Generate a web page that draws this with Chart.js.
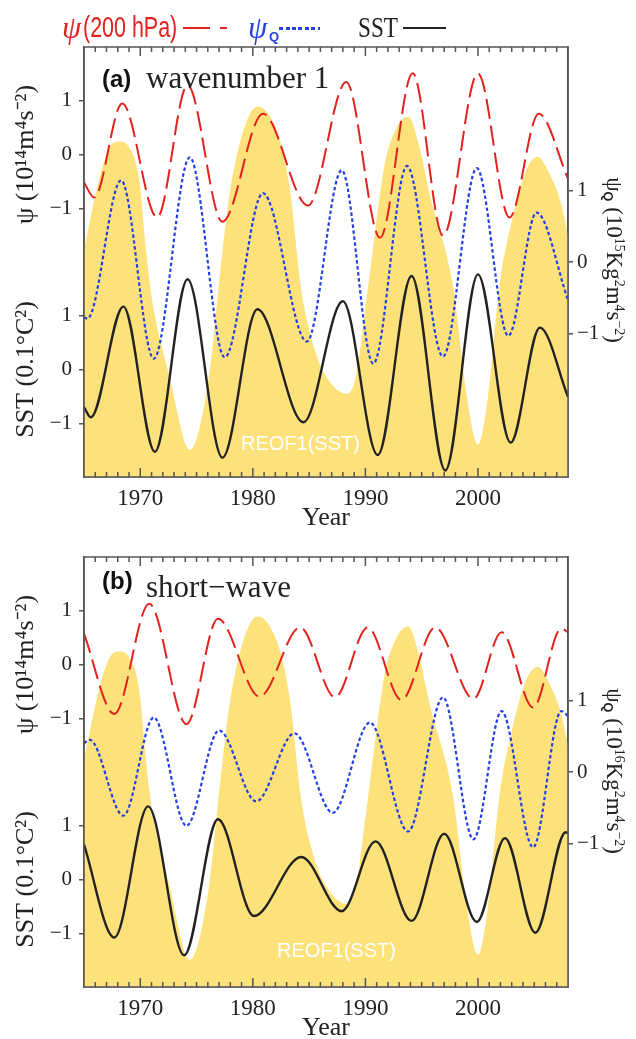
<!DOCTYPE html>
<html>
<head>
<meta charset="utf-8">
<script src="https://cdn.jsdelivr.net/npm/chart.js@4.4.1/dist/chart.umd.min.js"></script>
<style>
  body { margin: 0; width: 636px; height: 1039px; overflow: hidden; position: relative; background: #fff; }
  canvas { position: absolute; left: 0; }
  .t { position: absolute; white-space: nowrap; line-height: 1; z-index: 5; }
  .serif { font-family: 'Liberation Serif', serif; }
  .sans { font-family: 'Liberation Sans', sans-serif; }
  .rot { position: absolute; white-space: nowrap; line-height: 1; z-index: 5; transform: translate(-50%, -50%) rotate(90deg);
         font: 23px 'Liberation Serif', serif; color: #222; }
  .rot sup { font-size: 0.6em; vertical-align: 0.55em; line-height: 0; }
  .rot sub { font-size: 0.55em; vertical-align: -0.2em; line-height: 0; font-family: 'Liberation Sans', sans-serif; font-weight: bold; }
  .bar { position: absolute; z-index: 5; }
</style>
</head>
<body>

<!-- legend -->
<span class="t serif" style="left:62px;top:12px;color:#e3211d;font-size:31px;font-style:italic">ψ</span>
<span class="t sans" style="left:83px;top:13px;color:#e3211d;font-size:29px;transform:scaleX(.74);transform-origin:0 0">(200 hPa)</span>
<div class="bar" style="left:183px;top:27px;width:27px;height:2px;background:#e3211d"></div>
<div class="bar" style="left:220px;top:27px;width:7px;height:2px;background:#e3211d"></div>
<span class="t serif" style="left:248px;top:12px;color:#2440e6;font-size:31px;font-style:italic">ψ</span>
<span class="t sans" style="left:269px;top:30px;color:#2440e6;font-size:13px;font-weight:bold">Q</span>
<div class="bar" style="left:279px;top:27px;width:41px;height:2.5px;background:repeating-linear-gradient(90deg,#2440e6 0 4px,transparent 4px 6.5px)"></div>
<span class="t serif" style="left:358px;top:13px;color:#222;font-size:29px;transform:scaleX(.8);transform-origin:0 0">SST</span>
<div class="bar" style="left:403px;top:27px;width:43px;height:2px;background:#222"></div>

<!-- panel labels -->
<span class="t sans" style="left:102px;top:67px;font-size:24px;font-weight:bold;color:#111">(a)</span>
<span class="t serif" style="left:146px;top:62px;font-size:31px;color:#222">wavenumber 1</span>
<span class="t sans" style="left:102px;top:569px;font-size:24px;font-weight:bold;color:#111">(b)</span>
<span class="t serif" style="left:146px;top:571px;font-size:31px;color:#222">short−wave</span>

<span class="t sans" style="left:241px;top:433px;font-size:20px;color:#fff">REOF1(SST)</span>
<span class="t sans" style="left:277px;top:940px;font-size:20px;color:#fff">REOF1(SST)</span>

<div class="rot" style="left:614px;top:260px">ψ<sub>Q</sub> (10<sup>15</sup>Kg<sup>2</sup>m<sup>4</sup>s<sup>−2</sup>)</div>
<div class="rot" style="left:614px;top:771px">ψ<sub>Q</sub> (10<sup>16</sup>Kg<sup>2</sup>m<sup>4</sup>s<sup>−2</sup>)</div>

<canvas id="ca" width="636" height="545" style="top:0"></canvas>
<canvas id="cb" width="636" height="545" style="top:510px"></canvas>

<script>
// (a) wavenumber 1
var psiA_yr  = [1965, 1965.9, 1968.4, 1971.5, 1974.2, 1977.3, 1980.9, 1984.9, 1988.3, 1991.3, 1994.2, 1996.9, 2000.0, 2002.8, 2005.4, 2008];
var psiA     = [-0.52, -0.80, 0.95, -1.17, 1.29, -1.25, 0.76, -0.95, 1.35, -1.55, 1.51, -1.51, 1.51, -1.17, 0.76, -0.45];
var psiqA_yr = [1965, 1965.3, 1968.3, 1971.2, 1974.4, 1977.5, 1980.9, 1984.8, 1987.9, 1990.7, 1993.7, 1996.9, 1999.9, 2002.7, 2005.2, 2008];
var psiqA    = [-0.77, -0.79, 1.14, -1.35, 1.46, -1.33, 0.96, -1.11, 1.28, -1.42, 1.34, -1.32, 1.31, -1.03, 0.69, -0.53];
var sstA_yr  = [1965, 1965.6, 1968.5, 1971.3, 1974.2, 1977.3, 1980.4, 1984.5, 1988.0, 1991.1, 1994.1, 1997.1, 2000.0, 2002.9, 2005.5, 2008];
var sstA     = [-0.70, -0.89, 1.17, -1.53, 1.68, -1.64, 1.12, -0.98, 1.27, -1.59, 1.74, -1.88, 1.77, -1.36, 0.78, -0.51];

// REOF1(SST), same shading in both panels
var reof_yr  = [1965, 1966.4, 1967.3, 1968.1, 1969.0, 1969.9, 1970.5, 1971.0, 1972.6, 1974.4, 1976.1, 1977.0, 1977.9, 1979.1, 1980.4,
                1982.4, 1983.3, 1984.3, 1985.7, 1986.6, 1988.3, 1989.15, 1990.2, 1991.7, 1992.7, 1993.8, 1994.8, 1995.7,
                1997.8, 1999.0, 2000.0, 2000.9, 2001.9, 2003.1, 2004.2, 2005.3, 2006.3, 2007.3, 2008];
var reof     = [0.17, 1.19, 1.6, 1.68, 1.6, 1.15, 0.17, -0.48, -1.6, -2.62, -1.6, -0.29, 0.91, 1.8, 2.17,
                1.70, 1.0, -0.39, -1.32, -1.62, -1.84, -1.6, -0.4, 1.35, 1.85, 2.03, 1.6, 0.95,
                -0.35, -1.87, -2.55, -1.87, -0.35, 0.63, 1.25, 1.47, 1.25, 0.86, 0.38];

// (b) short-wave
var psiB_yr  = [1965, 1967.7, 1970.8, 1974.1, 1976.9, 1980.6, 1984.2, 1987.3, 1990.2, 1993.2, 1996.2, 1999.6, 2002.1, 2004.9, 2007.4, 2008];
var psiB     = [0.57, -0.92, 1.13, -1.11, 0.85, -0.60, 0.69, -0.61, 0.69, -0.66, 0.69, -0.64, 0.60, -0.80, 0.67, 0.60];
var psiqB_yr = [1965, 1965.5, 1968.5, 1971.2, 1974.1, 1977.0, 1980.3, 1983.7, 1987.1, 1990.4, 1993.8, 1996.9, 1999.6, 2002.1, 2004.9, 2007.4, 2008];
var psiqB    = [0.40, 0.45, -0.61, 0.76, -0.75, 0.58, -0.41, 0.54, -0.57, 0.69, -0.83, 1.04, -0.94, 0.85, -1.05, 0.85, 0.78];
var sstB_yr  = [1965, 1967.7, 1970.7, 1973.9, 1976.9, 1980.1, 1984.3, 1987.9, 1990.9, 1994.1, 1997.0, 1999.9, 2002.4, 2005.1, 2007.8, 2008];
var sstB     = [0.65, -1.08, 1.36, -1.41, 1.12, -0.68, 0.42, -0.59, 0.71, -0.77, 0.85, -0.79, 0.77, -0.99, 0.88, 0.87];

var xTicks = [1970, 1980, 1990, 2000];
var yTicks = [-1, 0, 1];

Chart.defaults.font.family = "'Liberation Serif', serif";
Chart.defaults.color = '#222';

var AXIS = '#555';

function pts(xs, ys) {
  return xs.map(function(x, i) { return {x: x, y: ys[i]}; });
}
function fmt(v) { return v < 0 ? '\u2212' + (-v) : String(v); }
function setY(s) { s.ticks = yTicks.map(function(v) { return {value: v}; }); }

// box + inward year ticks on top and bottom edges
var frame = {
  id: 'frame',
  afterDraw: function(chart) {
    var ctx = chart.ctx, a = chart.chartArea, x = chart.scales.x;
    ctx.save();
    ctx.strokeStyle = AXIS;
    ctx.lineWidth = 1.5;
    ctx.beginPath();
    for (var yr = 1966; yr <= 2007; yr++) {
      var px = x.getPixelForValue(yr);
      var len = yr % 10 === 0 ? 9 : 5;
      ctx.moveTo(px, a.bottom); ctx.lineTo(px, a.bottom - len);
      ctx.moveTo(px, a.top); ctx.lineTo(px, a.top + len);
    }
    ctx.stroke();
    ctx.strokeRect(a.left, a.top, a.right - a.left, a.bottom - a.top);
    ctx.restore();
  }
};

function yAxis(pos, min, max, title, extra) {
  var o = {
    type: 'linear', position: pos, min: min, max: max,
    afterBuildTicks: setY,
    grid: {drawOnChartArea: false, tickLength: 5, color: AXIS, lineWidth: 1.5},
    border: {color: AXIS, width: 1.5},
    ticks: {padding: pos === 'left' ? 7 : 4, font: {size: 21}, callback: fmt},
    title: {display: !!title, text: title, font: {size: 26}, padding: {top: 11, bottom: 0}}
  };
  for (var k in extra) o[k] = extra[k];
  return o;
}

function panel(id, psiX, psiY, qX, qY, sX, sY) {
  return new Chart(document.getElementById(id), {
    type: 'line',
    data: {
      datasets: [
        {data: pts(sX, sY), yAxisID: 'ySST', borderColor: '#222', borderWidth: 2.4, order: 0},
        {data: pts(qX, qY), yAxisID: 'yQ', borderColor: '#2440e6', borderWidth: 2.2, borderDash: [3.5, 2.5], order: 1},
        {data: pts(psiX, psiY), yAxisID: 'yPsi', borderColor: '#e3211d', borderWidth: 2, borderDash: [20, 7], order: 2},
        {data: pts(reof_yr, reof), yAxisID: 'yE', borderWidth: 0, borderColor: 'rgba(0,0,0,0)',
         backgroundColor: '#fde27b', fill: 'start', order: 9}
      ]
    },
    options: {
      responsive: false,
      animation: false,
      events: [],
      layout: {padding: {top: 47, left: 0, right: 0, bottom: 0}},
      elements: {
        point: {radius: 0},
        line: {cubicInterpolationMode: 'monotone', fill: false, borderCapStyle: 'butt'}
      },
      plugins: {legend: {display: false}, tooltip: {enabled: false}},
      scales: {
        x: {
          type: 'linear', min: 1965, max: 2008,
          afterBuildTicks: function(s) { s.ticks = xTicks.map(function(v) { return {value: v}; }); },
          afterFit: function(s) { s.height = 68; },
          grid: {display: false},
          border: {color: AXIS, width: 1.5},
          ticks: {padding: 0, font: {size: 23}, maxRotation: 0, autoSkip: false,
                  callback: function(v) { return String(v); }},
          title: {display: true, text: 'Year', font: {size: 26}, padding: {top: 0, bottom: 11}}
        },
        yPsi: yAxis('left', -2, 2, 'ψ (10¹⁴m⁴s⁻²)',
                    {stack: 'L', stackWeight: 1, weight: 2, afterFit: function(s) { s.width = 84; }}),
        ySST: yAxis('left', -2, 2, 'SST (0.1°C²)',
                    {stack: 'L', stackWeight: 1, weight: 1, afterFit: function(s) { s.width = 84; }}),
        yQ: yAxis('right', -3, 3, '', {afterFit: function(s) { s.width = 68; }}),
        yE: {type: 'linear', display: false, min: -3, max: 3}
      }
    },
    plugins: [frame]
  });
}

panel('ca', psiA_yr, psiA, psiqA_yr, psiqA, sstA_yr, sstA);
panel('cb', psiB_yr, psiB, psiqB_yr, psiqB, sstB_yr, sstB);
</script>
</body>
</html>
